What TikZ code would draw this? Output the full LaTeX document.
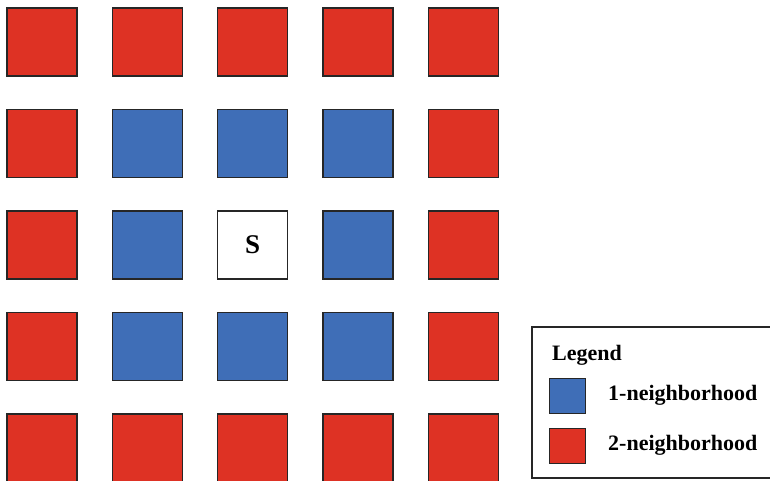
\documentclass[tikz,border=0pt]{standalone}
\usepackage{fontspec}
\setmainfont{Liberation Serif}
\definecolor{hoodred}{RGB}{222,50,36}
\definecolor{hoodblue}{RGB}{63,110,183}
\tikzset{
  cell/.style={draw=black!85, line width=1.3pt, minimum width=70pt, minimum height=68pt, inner sep=0pt},
  redcell/.style={cell, fill=hoodred},
  bluecell/.style={cell, fill=hoodblue},
  seedcell/.style={cell, fill=white, font=\bfseries\fontsize{27}{30}\selectfont},
  keybox/.style={draw=black!85, line width=1pt, minimum width=36pt, minimum height=35pt, inner sep=0pt},
  keytext/.style={anchor=west, inner sep=0pt, font=\bfseries\fontsize{22}{24}\selectfont}
}
\begin{document}
\begin{tikzpicture}[x=1pt, y=-1pt]

    \useasboundingbox (0,0) rectangle (770,480);

    % Grid of cells around the seed
    \foreach \i in {0,...,4} {
        \foreach \j in {0,...,4} {
            \pgfmathtruncatemacro{\dist}{max(abs(\i-2),abs(\j-2))}
            \ifnum\dist=0
                \node[seedcell] (c-\i-\j) at ({42+105.3*\i},{42+101.5*\j}) {S};
            \else\ifnum\dist=1
                \node[bluecell] (c-\i-\j) at ({42+105.3*\i},{42+101.5*\j}) {};
            \else
                \node[redcell] (c-\i-\j) at ({42+105.3*\i},{42+101.5*\j}) {};
            \fi\fi
        }
    }

    % Legend
    \draw[line width=1.2pt, draw=black!85] (532,327) rectangle (774,478);
    \node[keytext] (title) at (552,355) {Legend};
    \node[keybox, fill=hoodblue] (key1) at (567,395.5) {};
    \node[keytext] (lab1) at (608,395.5) {1-neighborhood};
    \node[keybox, fill=hoodred] (key2) at (567,445.5) {};
    \node[keytext] (lab2) at (608,445.5) {2-neighborhood};

\end{tikzpicture}
\end{document}
